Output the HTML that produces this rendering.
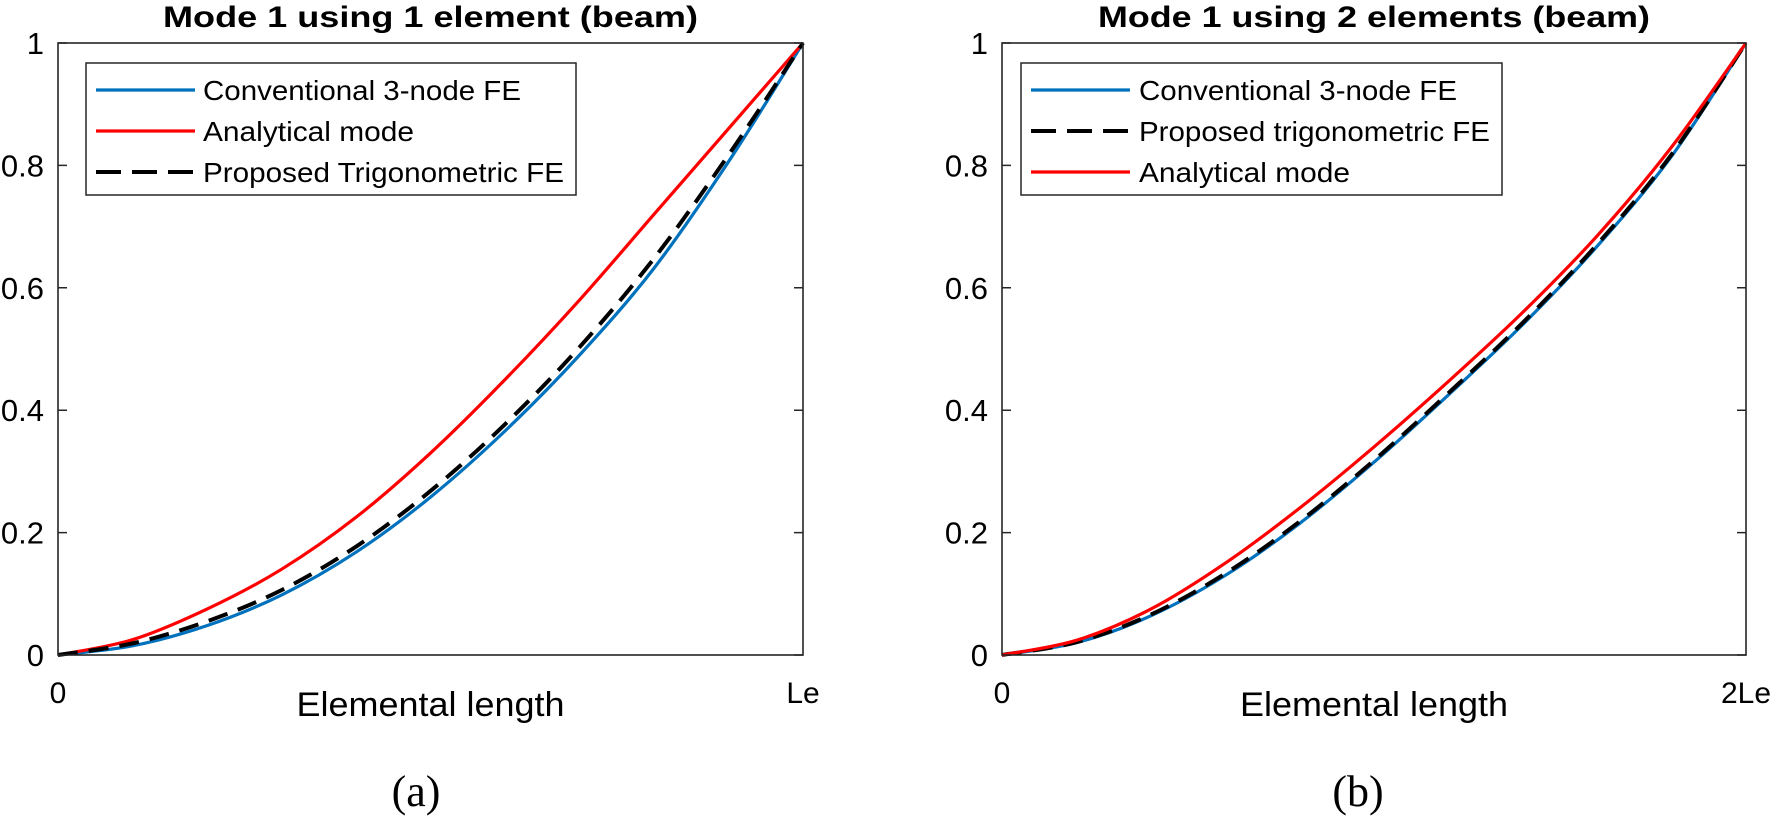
<!DOCTYPE html>
<html><head><meta charset="utf-8">
<style>
html,body{margin:0;padding:0;background:#fff;}
svg{display:block;font-family:"Liberation Sans",Arial,sans-serif;}
</style></head>
<body>
<svg id="fig" width="1772" height="820" viewBox="0 0 1772 820" xmlns="http://www.w3.org/2000/svg"></svg>
<script>
// ---- data ----
const xFrac = [0,0.1,0.2,0.3,0.4,0.5,0.6,0.7,0.8,0.9,1];
const yTicks = [0,0.2,0.4,0.6,0.8,1];
const yTickLabels = ["0","0.2","0.4","0.6","0.8","1"];
// panel a
const aBlue  = [0,0.015,0.048,0.098,0.168,0.258,0.366,0.49,0.632,0.806,1];
const aRed   = [0,0.025,0.075,0.14,0.225,0.33,0.45,0.58,0.72,0.86,1];
const aBlack = [0,0.019,0.055,0.106,0.177,0.268,0.377,0.503,0.648,0.817,1];
// panel b
const bBlue  = [0,0.02,0.064,0.13,0.215,0.315,0.425,0.54,0.668,0.815,1];
const bRed   = [0,0.024,0.075,0.15,0.24,0.34,0.447,0.56,0.685,0.83,1];
const bBlack = [0,0.021,0.066,0.133,0.218,0.318,0.428,0.543,0.671,0.818,1];
const xTickLabelsA = ["0","Le"];
const xTickLabelsB = ["0","2Le"];

const NS="http://www.w3.org/2000/svg";
const svg=document.getElementById('fig');
function mk(tag,attrs,parent){const e=document.createElementNS(NS,tag);for(const k in attrs)e.setAttribute(k,attrs[k]);(parent||svg).appendChild(e);return e;}
function txt(s,attrs,parent){const e=mk('text',attrs,parent);e.textContent=s;return e;}

function smoothPath(pts){
  let d=`M${pts[0][0]},${pts[0][1]}`;
  for(let i=0;i<pts.length-1;i++){
    const p0=pts[Math.max(0,i-1)],p1=pts[i],p2=pts[i+1],p3=pts[Math.min(pts.length-1,i+2)];
    const c1=[p1[0]+(p2[0]-p0[0])/6,p1[1]+(p2[1]-p0[1])/6];
    const c2=[p2[0]-(p3[0]-p1[0])/6,p2[1]-(p3[1]-p1[1])/6];
    d+=` C${c1[0]},${c1[1]} ${c2[0]},${c2[1]} ${p2[0]},${p2[1]}`;
  }
  return d;
}

function panel(cfg){
  const g=mk('g',{});
  
  
  const L=cfg.left,R=cfg.right,T=43,B=655;
  const sx=v=>L+v*(R-L), sy=v=>B-v*(B-T);
  const t=txt(cfg.title,{x:(L+R)/2,y:27,'text-anchor':'middle','font-size':30,'font-weight':'bold',textLength:cfg.titleW,lengthAdjust:'spacingAndGlyphs'},g);
  
  
  yTicks.forEach((v,i)=>{
    const y=sy(v);
    const tk=mk('path',{d:`M${L},${y}h9M${R},${y}h-9`,stroke:'#262626','stroke-width':1.5,fill:'none'},g);
    
    
    const lb=txt(yTickLabels[i],{x:L-14,y:y+11,'text-anchor':'end','font-size':31},g);
    
    
  });
  [0,1].forEach((v,i)=>{
    const lb=txt(cfg.xLabels[i],{x:sx(v),y:703,'text-anchor':'middle','font-size':30},g);
    
    
  });
  const xl=txt('Elemental length',{x:(L+R)/2,y:716,'text-anchor':'middle','font-size':34,textLength:268,lengthAdjust:'spacingAndGlyphs'},g);
  
  
  const cap=txt(cfg.caption,{x:cfg.capX,y:806,'text-anchor':'middle','font-size':44,'font-family':'"Liberation Serif",serif'},g);
  
  
  cfg.series.forEach(s=>{
    const pts=xFrac.map((x,i)=>[sx(x),sy(s.vals[i])]);
    const p=mk('path',{d:smoothPath(pts),stroke:s.color,'stroke-width':s.dash?4:3.2,fill:'none','stroke-dasharray':s.dash?'20 11':'none'},g);
    
    
  });
  const box=mk('rect',{x:L,y:T,width:R-L,height:B-T,fill:'none',stroke:'#262626','stroke-width':1.6},g);
  
  
  const lg=mk('g',{},g);
  
  
  const lgb=mk('rect',{x:cfg.lg.x,y:63,width:cfg.lg.w,height:132,fill:'#fff',stroke:'#262626','stroke-width':1.5},lg);
  
  
  const rows=[90,131,172];
  cfg.legendOrder.forEach((idx,r)=>{
    const s=cfg.series[idx];
    const ln=mk('line',{x1:cfg.lg.lx,x2:cfg.lg.lx+99,y1:rows[r],y2:rows[r],stroke:s.color,'stroke-width':s.dash?4:3.2,'stroke-dasharray':s.dash?'25 11':'none'},lg);
    
    
    const tt=txt(s.label,{x:cfg.lg.tx,y:rows[r]+10,'font-size':28,textLength:s.lw,lengthAdjust:'spacingAndGlyphs'},lg);
    
    
  });
}

panel({name:'panel-a',left:58,right:803,title:'Mode 1 using 1 element (beam)',titleW:535,
  xLabels:xTickLabelsA,caption:'(a)',capX:416,
  series:[
    {id:'conventional-fe-line',vals:aBlue,color:'#0072BD',label:'Conventional 3-node FE',lw:318},
    {id:'analytical-mode-line',vals:aRed,color:'#FF0000',label:'Analytical mode',lw:211},
    {id:'trigonometric-fe-line',vals:aBlack,color:'#000',dash:true,label:'Proposed Trigonometric FE',lw:361}],
  legendOrder:[0,1,2],lg:{x:86,w:490,lx:96,tx:203}});

panel({name:'panel-b',left:1002,right:1746,title:'Mode 1 using 2 elements (beam)',titleW:552,
  xLabels:xTickLabelsB,caption:'(b)',capX:1358,
  series:[
    {id:'conventional-fe-line',vals:bBlue,color:'#0072BD',label:'Conventional 3-node FE',lw:318},
    {id:'trigonometric-fe-line',vals:bBlack,color:'#000',dash:true,label:'Proposed trigonometric FE',lw:351},
    {id:'analytical-mode-line',vals:bRed,color:'#FF0000',label:'Analytical mode',lw:211}],
  legendOrder:[0,1,2],lg:{x:1021,w:481,lx:1031,tx:1139}});
</script>
</body></html>
